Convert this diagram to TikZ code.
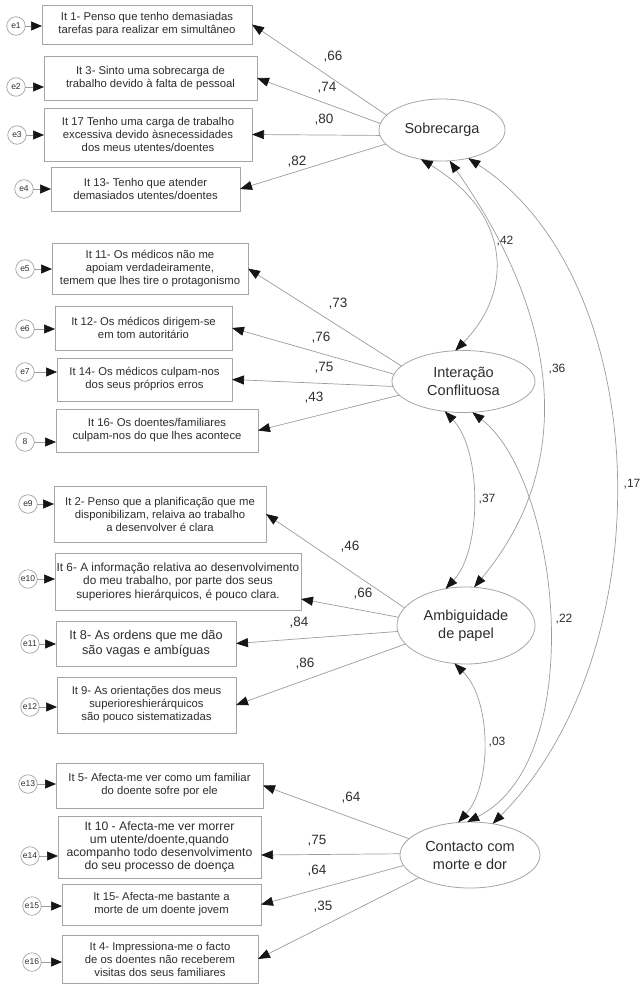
\documentclass[tikz,border=0pt]{standalone}
\usepackage{fontspec}
\setmainfont{Liberation Sans}
\usetikzlibrary{shapes.geometric,arrows.meta}
\definecolor{ln}{HTML}{9C9C9C}
\definecolor{bx}{HTML}{A6A6A6}
\definecolor{tx}{HTML}{2E2E2E}
\definecolor{tipc}{HTML}{151515}
\begin{document}
\begin{tikzpicture}[x=1pt,y=-1pt,
  item/.style={draw=bx, line width=0.8pt, fill=white, align=center, inner sep=1pt, outer sep=0pt, text=tx, font=\fontsize{11.3}{13}\selectfont},
  err/.style={draw=bx, line width=0.7pt, circle, minimum size=18.5pt, inner sep=0pt, outer sep=0pt, text=tx, font=\fontsize{8.5}{9}\selectfont},
  lat/.style={draw=bx, line width=0.8pt, ellipse, inner sep=0pt, outer sep=0pt, align=center, text=tx, font=\fontsize{14.5}{18}\selectfont},
  load/.style={draw=ln, line width=0.7pt, -{Triangle[length=12pt,width=9pt,color=tipc]}},
  erra/.style={draw=ln, line width=0.7pt, -{Triangle[length=11pt,width=9pt,color=tipc]}},
  cor/.style={draw=ln, line width=0.7pt, {Triangle[length=12pt,width=9pt,color=tipc]}-{Triangle[length=12pt,width=9pt,color=tipc]}},
  lbl/.style={text=tx, inner sep=0pt, font=\fontsize{13.5}{14}\selectfont},
  clbl/.style={text=tx, inner sep=0pt, font=\fontsize{12}{13}\selectfont}]
\useasboundingbox[fill=white] (0,0) rectangle (641,987);

% item boxes
\node[item, minimum width=210pt, minimum height=39pt] (b1) at (147,24.5) {It 1- Penso que tenho demasiadas\\tarefas para realizar em simultâneo};
\node[item, minimum width=213pt, minimum height=44pt] (b2) at (150.5,78) {It 3- Sinto uma sobrecarga de\\trabalho devido à falta de pessoal};
\node[item, minimum width=208pt, minimum height=53pt] (b3) at (148,134.5) {It 17 Tenho uma carga de trabalho\\excessiva devido àsnecessidades\\dos meus utentes/doentes};
\node[item, minimum width=189pt, minimum height=44pt] (b4) at (145.5,189) {It 13- Tenho que atender\\demasiados utentes/doentes};
\node[item, minimum width=196pt, minimum height=51pt] (b5) at (150,268.5) {It 11- Os médicos não me\\apoiam verdadeiramente,\\temem que lhes tire o protagonismo};
\node[item, minimum width=177pt, minimum height=44pt] (b6) at (143.5,328) {It 12- Os médicos dirigem-se\\em tom autoritário};
\node[item, minimum width=175pt, minimum height=43pt] (b7) at (144.5,379.5) {It 14- Os médicos culpam-nos\\dos seus próprios erros};
\node[item, minimum width=202pt, minimum height=43pt] (b8) at (157,430.5) {It 16- Os doentes/familiares\\culpam-nos do que lhes acontece};
\node[item, minimum width=212pt, minimum height=56pt] (b9) at (160,514) {It 2- Penso que a planificação que me\\disponibilizam, relaiva ao trabalho\\a desenvolver é clara};
\node[item, minimum width=246pt, minimum height=57pt, font=\fontsize{11.8}{13.5}\selectfont] (b10) at (178,581.5) {It 6- A informação relativa ao desenvolvimento\\do meu trabalho, por parte dos seus\\superiores hierárquicos, é pouco clara.};
\node[item, minimum width=180pt, minimum height=45pt, font=\fontsize{12.7}{15}\selectfont] (b11) at (146,643.5) {It 8- As ordens que me dão\\são vagas e ambíguas};
\node[item, minimum width=179pt, minimum height=56pt] (b12) at (146.5,705) {It 9- As orientações dos meus\\superioreshierárquicos\\são pouco sistematizadas};
\node[item, minimum width=207pt, minimum height=45pt] (b13) at (159.5,785.5) {It 5- Afecta-me ver como um familiar\\do doente sofre por ele};
\node[item, minimum width=203pt, minimum height=62pt, font=\fontsize{12.2}{12.8}\selectfont] (b14) at (159.5,847) {It 10 - Afecta-me ver morrer\\um utente/doente,quando\\acompanho todo desenvolvimento\\do seu processo de doença};
\node[item, minimum width=199pt, minimum height=41pt] (b15) at (161.5,904.5) {It 15- Afecta-me bastante a\\morte de um doente jovem};
\node[item, minimum width=196pt, minimum height=48pt] (b16) at (160,959) {It 4- Impressiona-me o facto\\de os doentes não receberem\\visitas dos seus familiares};

% error terms
\node[err] (e1) at (16,26) {e1};
\node[err] (e2) at (16,87) {e2};
\node[err] (e3) at (17,135) {e3};
\node[err] (e4) at (24,189) {e4};
\node[err] (e5) at (25,269) {e5};
\node[err] (e6) at (25,329) {e6};
\node[err] (e7) at (25,372) {e7};
\node[err] (e8) at (25,442) {8};
\node[err] (e9) at (28,504) {e9};
\node[err] (e10) at (28,579) {e10};
\node[err] (e11) at (30,644) {e11};
\node[err] (e12) at (30,707) {e12};
\node[err] (e13) at (28,784) {e13};
\node[err] (e14) at (30,856) {e14};
\node[err] (e15) at (32,906) {e15};
\node[err] (e16) at (32,962) {e16};
\foreach \i in {1,...,16} {\draw[erra] (e\i) -- (e\i -| b\i.west);}

% latent variables
\node[lat, minimum width=126pt, minimum height=62pt] (S) at (442,130) {Sobrecarga};
\node[lat, minimum width=143pt, minimum height=62pt] (I) at (463.5,381.5) {Interação\\Conflituosa};
\node[lat, minimum width=138pt, minimum height=77pt] (A) at (466,625.5) {Ambiguidade\\de papel};
\node[lat, minimum width=140pt, minimum height=66pt] (C) at (470,855) {Contacto com\\morte e dor};

% loadings
\draw[load] (S.165) -- (b1.east);
\draw[load] (S.174) -- (b2.east);
\draw[load] (S.-175) -- (b3.east);
\draw[load] (S.-166) -- (b4.east);
\draw[load] (I.166) -- (b5.east);
\draw[load] (I.174) -- (b6.east);
\draw[load] (I.-176) -- (b7.east);
\draw[load] (I.-168) -- (b8.east);
\draw[load] (A.164) -- (b9.east);
\draw[load] (A.173) -- ([yshift=-17.5pt]b10.east);
\draw[load] (A.-175) -- (b11.east);
\draw[load] (A.-163) -- (b12.east);
\draw[load] (C.165) -- (b13.east);
\draw[load] (C.179) -- ([yshift=-8pt]b14.east);
\draw[load] (C.-171) -- (b15.east);
\draw[load] (C.-156) -- (b16.east);

\node[lbl] (l1) at (333,57) {,66};
\node[lbl] (l2) at (327,88) {,74};
\node[lbl] (l3) at (324,120) {,80};
\node[lbl] (l4) at (297,162) {,82};
\node[lbl] (l5) at (338,304) {,73};
\node[lbl] (l6) at (321,338) {,76};
\node[lbl] (l7) at (324,368) {,75};
\node[lbl] (l8) at (314,398) {,43};
\node[lbl] (l9) at (350,547) {,46};
\node[lbl] (l10) at (363,594) {,66};
\node[lbl] (l11) at (299,623) {,84};
\node[lbl] (l12) at (305,664) {,86};
\node[lbl] (l13) at (351,798) {,64};
\node[lbl] (l14) at (317,841) {,75};
\node[lbl] (l15) at (317,871) {,64};
\node[lbl] (l16) at (323,907) {,35};

% correlations
\draw[cor] (S.-126) .. controls (510,213) and (515,290) .. (I.105);
\draw[cor] (S.-76) .. controls (565,325) and (573,469) .. (A.78);
\draw[cor] (S.-47) .. controls (655,280) and (665,650) .. (C.54);
\draw[cor] (I.-122) .. controls (482,450) and (482,550) .. (A.119);
\draw[cor] (I.-74) .. controls (560,480) and (590,760) .. (C.95);
\draw[cor] (A.-107) .. controls (492,700) and (492,785) .. (C.110);

\node[clbl] (c1) at (505,241) {,42};
\node[clbl] (c2) at (557,369) {,36};
\node[clbl] (c3) at (632,484) {,17};
\node[clbl] (c4) at (487,499) {,37};
\node[clbl] (c5) at (564,619) {,22};
\node[clbl] (c6) at (497,742) {,03};
\end{tikzpicture}
\end{document}
